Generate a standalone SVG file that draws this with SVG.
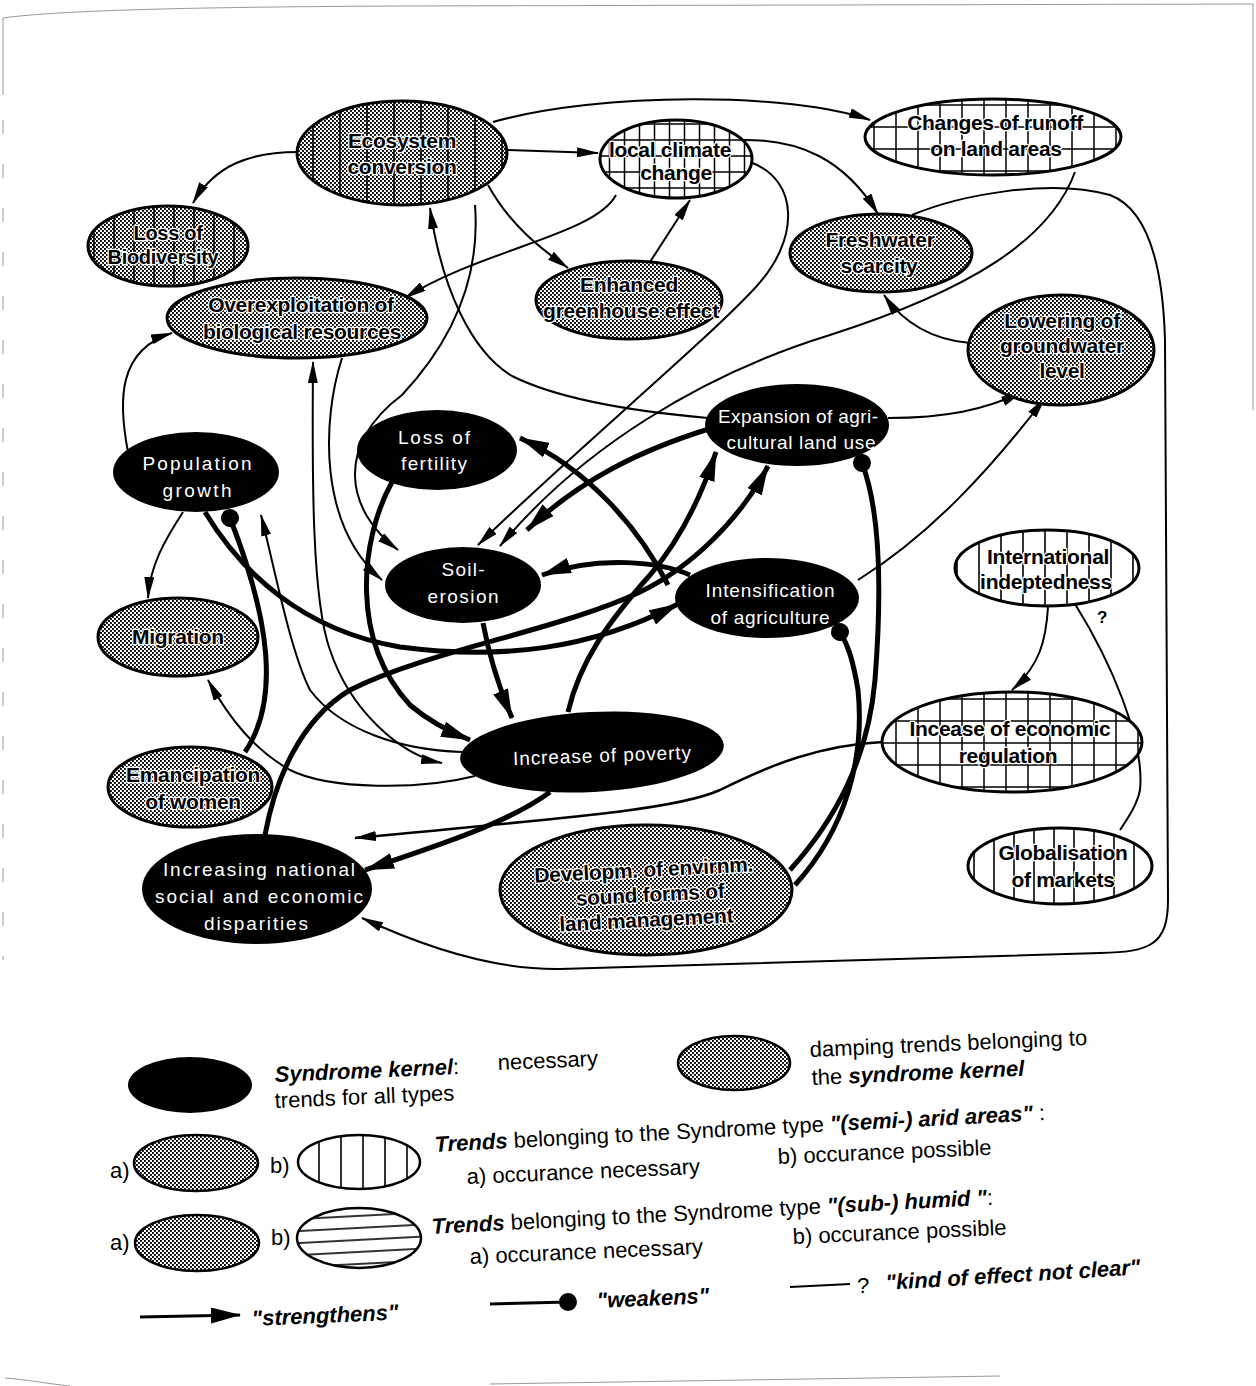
<svg xmlns="http://www.w3.org/2000/svg" width="1256" height="1386" viewBox="0 0 1256 1386">
<defs>
<pattern id="dots" width="4" height="4" patternUnits="userSpaceOnUse">
<rect width="4" height="4" fill="#fff"/>
<rect x="0" y="0" width="1.9" height="1.9" fill="#000"/>
<rect x="2" y="2" width="1.9" height="1.9" fill="#000"/>
</pattern>
<pattern id="vl27" width="27" height="10" patternUnits="userSpaceOnUse" x="3">
<line x1="13" y1="0" x2="13" y2="10" stroke="#000" stroke-width="1.6"/>
</pattern>
<pattern id="vl20" width="20" height="10" patternUnits="userSpaceOnUse" x="4">
<line x1="10" y1="0" x2="10" y2="10" stroke="#000" stroke-width="1.6"/>
</pattern>
<pattern id="vl22" width="22" height="10" patternUnits="userSpaceOnUse">
<line x1="11" y1="0" x2="11" y2="10" stroke="#000" stroke-width="1.6"/>
</pattern>
<pattern id="grid15" width="15" height="16" patternUnits="userSpaceOnUse" x="2" y="4">
<path d="M7.5,0 V16 M0,8 H15" stroke="#000" stroke-width="1.5" fill="none"/>
</pattern>
<pattern id="grid22" width="22" height="22" patternUnits="userSpaceOnUse" x="5" y="6">
<path d="M11,0 V22 M0,11 H22" stroke="#000" stroke-width="1.5" fill="none"/>
</pattern>
<pattern id="hl" width="20" height="12" patternUnits="userSpaceOnUse" patternTransform="rotate(-3)" y="3">
<line x1="0" y1="6" x2="20" y2="6" stroke="#000" stroke-width="1.6"/>
</pattern>
<marker id="a" markerUnits="userSpaceOnUse" markerWidth="22" markerHeight="10" refX="21" refY="5" orient="auto-start-reverse"><path d="M0,0 L22,5 L0,10 z" fill="#000"/></marker>
<marker id="A" markerUnits="userSpaceOnUse" markerWidth="30" markerHeight="16" refX="29" refY="8" orient="auto"><path d="M0,0 L30,8 L0,16 z" fill="#000"/></marker>
<marker id="dot" markerUnits="userSpaceOnUse" markerWidth="20" markerHeight="20" refX="10" refY="10" orient="auto"><circle cx="10" cy="10" r="9" fill="#000"/></marker>
<style>
.ol{stroke:#000;stroke-width:3}
.blk{fill:#000}
.wt{font-family:"Liberation Sans",Arial,sans-serif;font-size:19px;fill:#fff;text-anchor:middle}
.bt{font-family:"Liberation Sans",Arial,sans-serif;font-size:21px;font-weight:bold;fill:#000;text-anchor:middle;stroke:#fff;stroke-width:2.5;paint-order:stroke;stroke-linejoin:round;letter-spacing:-0.3px}
.thin{fill:none;stroke:#000;stroke-width:2;marker-end:url(#a)}
.thick{fill:none;stroke:#000;stroke-width:5;marker-end:url(#A)}
.weak{fill:none;stroke:#000;stroke-width:5;marker-end:url(#dot)}
.lg{font-family:"Liberation Sans",Arial,sans-serif;font-size:22px;fill:#000}
.bi{font-weight:bold;font-style:italic}
</style>
</defs>
<rect width="1256" height="1386" fill="#fff"/>
<g id="frame" fill="none" stroke="#999" stroke-width="1">
<path d="M3,95 L3,18 C60,10 200,7 400,6 L1253,4 L1253,410"/>
<path d="M3,120 L3,960" stroke-dasharray="14 30"/>
<path d="M5,1378 C30,1380 50,1384 70,1386"/>
<path d="M490,1384 L1000,1376"/>
</g>
<g id="connectors">
<path class="thin" d="M298,152 C250,152 215,165 193,203"/>
<path class="thin" d="M508,150 L598,153"/>
<path class="thin" d="M493,122 C600,92 790,92 870,120"/>
<path class="thin" d="M488,185 C510,225 540,248 568,268"/>
<path class="thin" d="M650,262 L690,200"/>
<path class="thin" d="M616,195 C595,235 480,250 405,298"/>
<path class="thin" d="M738,140 C800,138 845,160 878,214"/>
<path class="thin" d="M750,162 C800,180 800,240 755,288 C705,342 570,455 478,545"/>
<path class="thin" d="M1075,172 C1050,240 970,290 830,335 C700,375 580,450 500,546"/>
<path class="thin" d="M970,343 C935,340 905,325 884,295"/>
<path class="thin" d="M888,418 C945,418 985,410 1022,392"/>
<path class="thin" d="M858,580 C930,535 990,470 1045,398"/>
<path class="thin" d="M708,418 C640,412 560,400 512,376 C472,352 442,290 430,208"/>
<path class="thin" d="M475,205 C480,270 458,335 402,395 C335,445 345,510 398,550"/>
<path class="thin" d="M342,358 C322,420 318,525 382,580"/>
<path class="thin" d="M313,362 C312,480 312,600 330,650 C350,710 400,755 442,763" style="marker-start:url(#a)"/>
<path class="thin" d="M462,752 C400,750 340,730 310,690 C290,650 275,570 261,515"/>
<path class="thin" d="M475,776 C420,790 330,790 290,770 C255,750 230,720 208,680"/>
<path class="thin" d="M128,452 C118,400 118,350 172,333"/>
<path class="thin" d="M183,512 C165,540 150,565 148,598"/>
<path class="thin" d="M1048,607 C1046,640 1040,665 1012,690"/>
<path fill="none" stroke="#000" stroke-width="2" d="M1075,604 C1110,660 1145,740 1140,790 C1137,805 1128,818 1120,830"/>
<path class="thin" style="stroke-width:2.5" d="M883,742 C820,745 770,765 720,790 C680,808 600,815 355,838"/>
<path class="thin" d="M912,215 C960,195 1050,178 1110,195 C1150,210 1163,270 1165,340 L1168,900 C1168,945 1150,952 1100,953 L560,969 C490,970 420,945 362,918"/>
<path class="thick" d="M392,482 C360,540 350,640 410,705 C430,722 450,732 470,740"/>
<path class="thick" d="M483,623 C490,660 500,690 512,718"/>
<path class="thick" d="M690,575 C660,562 600,555 542,575"/>
<path class="thick" d="M712,428 C640,450 580,480 527,530"/>
<path class="thick" d="M668,585 C640,530 590,470 520,438"/>
<path class="thick" d="M568,712 C580,660 610,620 650,575 C680,540 700,500 716,452"/>
<path class="thick" d="M265,835 C275,780 300,720 350,690 C430,650 560,630 640,592 C690,568 740,520 768,466"/>
<path class="thick" d="M205,512 C240,570 300,630 400,647 C500,660 590,650 678,604"/>
<path class="thick" d="M550,792 C510,822 440,845 365,870"/>
<path class="weak" d="M245,752 C280,700 270,620 230,518"/>
<path class="weak" d="M795,885 C845,830 865,760 858,690 C853,660 848,645 840,632"/>
<path class="weak" d="M790,870 C835,820 868,760 875,680 C882,590 880,510 862,463"/>
<text x="1097" y="623" font-family="Liberation Sans,Arial,sans-serif" font-size="17" font-weight="bold">?</text>
</g>
<g id="n-eco"><ellipse cx="402" cy="153" rx="105" ry="52" fill="url(#dots)"/><ellipse cx="402" cy="153" rx="105" ry="52" fill="url(#vl27)" class="ol"/>
<text class="bt" x="402" y="148">Ecosystem</text><text class="bt" x="402" y="174">conversion</text></g>
<g id="n-lob"><ellipse cx="168" cy="246" rx="80" ry="40" fill="url(#dots)"/><ellipse cx="168" cy="246" rx="80" ry="40" fill="url(#vl20)" class="ol"/>
<text class="bt" x="168" y="240" style="font-size:20px">Loss of</text><text class="bt" x="163" y="264" style="font-size:20px">Biodiversity</text></g>
<g id="n-ovx"><ellipse cx="297" cy="318" rx="130" ry="40" fill="url(#dots)" class="ol"/>
<text class="bt" x="301" y="312">Overexploitation of</text><text class="bt" x="302" y="339">biological resources</text></g>
<g id="n-lcc"><ellipse cx="676" cy="159" rx="76" ry="39" fill="#fff"/><ellipse cx="676" cy="159" rx="76" ry="39" fill="url(#grid15)" class="ol"/>
<text class="bt" x="670" y="157">local climate</text><text class="bt" x="676" y="180">change</text></g>
<g id="n-run"><ellipse cx="993" cy="137" rx="128" ry="38" fill="#fff"/><ellipse cx="993" cy="137" rx="128" ry="38" fill="url(#grid22)" class="ol"/>
<text class="bt" x="995" y="130">Changes of runoff</text><text class="bt" x="996" y="156">on land areas</text></g>
<g id="n-egh"><ellipse cx="629" cy="300" rx="93" ry="39" fill="url(#dots)" class="ol"/>
<text class="bt" x="629" y="292">Enhanced</text><text class="bt" x="631" y="318">greenhouse effect</text></g>
<g id="n-fws"><ellipse cx="881" cy="253" rx="91" ry="39" fill="url(#dots)" class="ol"/>
<text class="bt" x="880" y="247">Freshwater</text><text class="bt" x="879" y="273">scarcity</text></g>
<g id="n-low"><ellipse cx="1061" cy="350" rx="93" ry="55" fill="url(#dots)" class="ol"/>
<text class="bt" x="1062" y="328">Lowering of</text><text class="bt" x="1062" y="353">groundwater</text><text class="bt" x="1062" y="378">level</text></g>
<g id="n-exp"><ellipse cx="797" cy="425" rx="92" ry="41" class="blk"/>
<text class="wt" x="798" y="423" textLength="160" lengthAdjust="spacing">Expansion of agri-</text><text class="wt" x="801" y="449" textLength="149" lengthAdjust="spacing">cultural land use</text></g>
<g id="n-lof"><ellipse cx="437" cy="450" rx="80" ry="40" class="blk"/>
<text class="wt" x="434" y="444" textLength="72" lengthAdjust="spacing">Loss of</text><text class="wt" x="434" y="470" textLength="66" lengthAdjust="spacing">fertility</text></g>
<g id="n-pop"><ellipse cx="196" cy="472" rx="83" ry="40" class="blk"/>
<text class="wt" x="197" y="470" textLength="109" lengthAdjust="spacing">Population</text><text class="wt" x="197" y="497" textLength="69" lengthAdjust="spacing">growth</text></g>
<g id="n-soil"><ellipse cx="463" cy="585" rx="78" ry="38" class="blk"/>
<text class="wt" x="463" y="576" textLength="43" lengthAdjust="spacing">Soil-</text><text class="wt" x="463" y="603" textLength="71" lengthAdjust="spacing">erosion</text></g>
<g id="n-int"><ellipse cx="767" cy="598" rx="92" ry="40" class="blk"/>
<text class="wt" x="770" y="597" textLength="129" lengthAdjust="spacing">Intensification</text><text class="wt" x="770" y="624" textLength="119" lengthAdjust="spacing">of agriculture</text></g>
<g id="n-mig"><ellipse cx="178" cy="637" rx="80" ry="39" fill="url(#dots)" class="ol"/>
<text class="bt" x="178" y="644">Migration</text></g>
<g id="n-intl"><ellipse cx="1047" cy="568" rx="92" ry="38" fill="#fff"/><ellipse cx="1047" cy="568" rx="92" ry="38" fill="url(#vl22)" class="ol"/>
<text class="bt" x="1048" y="564">International</text><text class="bt" x="1046" y="589">indeptedness</text></g>
<g id="n-pov"><ellipse cx="592" cy="752" rx="132" ry="40" class="blk" transform="rotate(-3 592 752)"/>
<text class="wt" x="602" y="762" textLength="178" lengthAdjust="spacing" transform="rotate(-2 602 755)">Increase of poverty</text></g>
<g id="n-reg"><ellipse cx="1012" cy="742" rx="130" ry="50" fill="#fff"/><ellipse cx="1012" cy="742" rx="130" ry="50" fill="url(#grid22)" class="ol"/>
<text class="bt" x="1010" y="736">Incease of economic</text><text class="bt" x="1008" y="763">regulation</text></g>
<g id="n-emw"><ellipse cx="190" cy="787" rx="82" ry="40" fill="url(#dots)" class="ol"/>
<text class="bt" x="193" y="782">Emancipation</text><text class="bt" x="193" y="809">of women</text></g>
<g id="n-disp"><ellipse cx="257" cy="889" rx="115" ry="55" class="blk"/>
<text class="wt" x="259" y="876" textLength="192" lengthAdjust="spacing">Increasing national</text><text class="wt" x="259" y="903" textLength="208" lengthAdjust="spacing">social and economic</text><text class="wt" x="256" y="930" textLength="104" lengthAdjust="spacing">disparities</text></g>
<g id="n-dev"><ellipse cx="646" cy="890" rx="146" ry="65" fill="url(#dots)" class="ol"/>
<g transform="rotate(-3 646 895)"><text class="bt" x="645" y="877">Developm. of envirnm.</text><text class="bt" x="650" y="902">sound forms of</text><text class="bt" x="645" y="927">land management</text></g></g>
<g id="n-glob"><ellipse cx="1060" cy="866" rx="92" ry="38" fill="#fff"/><ellipse cx="1060" cy="866" rx="92" ry="38" fill="url(#vl20)" class="ol"/>
<text class="bt" x="1063" y="860">Globalisation</text><text class="bt" x="1063" y="887">of markets</text></g>
<g id="legend">
<ellipse cx="190" cy="1085" rx="62" ry="28" class="blk"/>
<text class="lg" x="275" y="1082" transform="rotate(-2.5 275 1082)"><tspan class="bi">Syndrome kernel</tspan>:</text>
<text class="lg" x="498" y="1070" transform="rotate(-2.5 498 1070)">necessary</text>
<text class="lg" x="275" y="1108" transform="rotate(-2.5 275 1108)">trends for all types</text>
<ellipse cx="734" cy="1063" rx="56" ry="27" fill="url(#dots)" stroke="#000" stroke-width="2.5"/>
<text class="lg" x="810" y="1057" transform="rotate(-2.5 810 1057)">damping trends belonging to</text>
<text class="lg" x="812" y="1085" transform="rotate(-2.5 812 1085)">the <tspan class="bi">syndrome kernel</tspan></text>
<text class="lg" x="110" y="1178">a)</text>
<ellipse cx="196" cy="1163" rx="62" ry="28" fill="url(#dots)" stroke="#000" stroke-width="2.5"/>
<text class="lg" x="270" y="1173">b)</text>
<ellipse cx="359" cy="1162" rx="61" ry="27" fill="#fff"/>
<ellipse cx="359" cy="1162" rx="61" ry="27" fill="url(#vl22)" stroke="#000" stroke-width="2.5"/>
<text class="lg" x="435" y="1152" transform="rotate(-3 435 1152)"><tspan class="bi">Trends</tspan> belonging to the Syndrome type <tspan class="bi">"(semi-) arid areas"</tspan> :</text>
<text class="lg" x="467" y="1184" transform="rotate(-2.5 467 1184)">a) occurance necessary</text>
<text class="lg" x="778" y="1164" transform="rotate(-2.5 778 1164)">b) occurance possible</text>
<text class="lg" x="110" y="1250">a)</text>
<ellipse cx="197" cy="1243" rx="62" ry="28" fill="url(#dots)" stroke="#000" stroke-width="2.5"/>
<text class="lg" x="271" y="1245">b)</text>
<ellipse cx="359" cy="1238" rx="62" ry="30" fill="#fff"/>
<ellipse cx="359" cy="1238" rx="62" ry="30" fill="url(#hl)" stroke="#000" stroke-width="2.5"/>
<text class="lg" x="432" y="1234" transform="rotate(-3 432 1234)"><tspan class="bi">Trends</tspan> belonging to the Syndrome type <tspan class="bi">"(sub-) humid "</tspan>:</text>
<text class="lg" x="470" y="1264" transform="rotate(-2.5 470 1264)">a) occurance necessary</text>
<text class="lg" x="793" y="1244" transform="rotate(-2.5 793 1244)">b) occurance possible</text>
<path d="M140,1317 L240,1315" stroke="#000" stroke-width="3" fill="none" marker-end="url(#A)"/>
<text class="lg bi" x="252" y="1326" transform="rotate(-2.5 252 1326)">"strengthens"</text>
<path d="M490,1304 L568,1302" stroke="#000" stroke-width="3" fill="none" marker-end="url(#dot)"/>
<text class="lg bi" x="597" y="1308" transform="rotate(-2.5 597 1308)">"weakens"</text>
<path d="M790,1287 L850,1284" stroke="#000" stroke-width="2" fill="none"/>
<text class="lg" x="857" y="1293" font-size="18">?</text>
<text class="lg bi" x="886" y="1290" transform="rotate(-3.5 886 1290)">"kind of effect not clear"</text>
</g>
</svg>
